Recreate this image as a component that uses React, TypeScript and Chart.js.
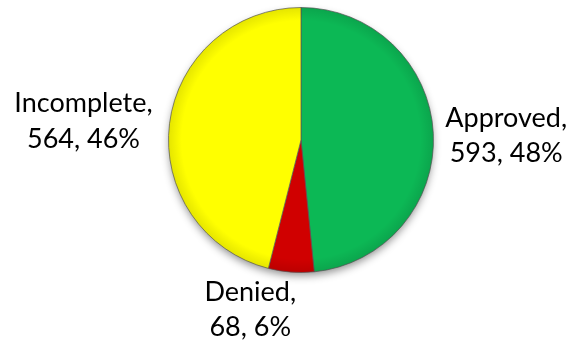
import React, { useEffect, useRef } from "react";
import { Chart, registerables } from "chart.js";

Chart.register(...registerables);

const categories = ["Approved", "Denied", "Incomplete"];
const counts = [593, 68, 564];
const percents = ["48%", "6%", "46%"];
const colors = ["#0CB855", "#D00000", "#FFFF00"];
// label nudges (px) relative to the outside-end anchor
const labelNudges = [
  { dx: 0, dy: 3 },
  { dx: -40, dy: -10 },
  { dx: -5, dy: -1 },
];

const labelPlugin = {
  id: "outsideLabels",
  afterDatasetsDraw(chart: any) {
    const ctx = chart.ctx;
    const meta = chart.getDatasetMeta(0);
    ctx.save();
    ctx.font = "27px Lato, 'Open Sans', sans-serif";
    ctx.fillStyle = "#000";
    const lineH = 35.5;
    meta.data.forEach((arc: any, i: number) => {
      const p = arc.getProps(["x", "y", "startAngle", "endAngle", "outerRadius"], true);
      const mid = (p.startAngle + p.endAngle) / 2;
      const r = p.outerRadius + 12;
      const ax = p.x + Math.cos(mid) * r;
      const ay = p.y + Math.sin(mid) * r;
      const lines = [categories[i] + ",", counts[i] + ", " + percents[i]];
      const widths = lines.map((l) => ctx.measureText(l).width);
      const w = Math.max(...widths);
      const h = lineH * lines.length;
      const c = Math.cos(mid);
      const s = Math.sin(mid);
      let cx: number, cy: number;
      if (Math.abs(c) > Math.abs(s)) {
        cx = ax + (c > 0 ? w / 2 : -w / 2);
        cy = ay;
      } else {
        cx = ax;
        cy = ay + (s > 0 ? h / 2 : -h / 2);
      }
      cx += labelNudges[i].dx;
      cy += labelNudges[i].dy;
      ctx.textAlign = "center";
      ctx.textBaseline = "middle";
      lines.forEach((l, k) => {
        ctx.fillText(l, cx, cy - h / 2 + lineH / 2 + k * lineH);
      });
    });
    ctx.restore();
  },
};

const shadowPlugin = {
  id: "pieShadow",
  beforeDatasetsDraw(chart: any) {
    const ctx = chart.ctx;
    const arc = chart.getDatasetMeta(0).data[0];
    if (!arc) return;
    const { x, y, outerRadius } = arc.getProps(["x", "y", "outerRadius"], true);
    ctx.save();
    ctx.shadowColor = "rgba(0,0,0,0.45)";
    ctx.shadowBlur = 8;
    ctx.shadowOffsetY = 4;
    ctx.fillStyle = "#888";
    ctx.beginPath();
    ctx.arc(x, y, outerRadius - 1, 0, Math.PI * 2);
    ctx.fill();
    ctx.restore();
  },
};

const bevelPlugin = {
  id: "bevel",
  afterDatasetsDraw(chart: any) {
    const ctx = chart.ctx;
    const arc = chart.getDatasetMeta(0).data[0];
    if (!arc) return;
    const { x, y, outerRadius } = arc.getProps(["x", "y", "outerRadius"], true);
    ctx.save();
    const g = ctx.createRadialGradient(x, y, outerRadius * 0.9, x, y, outerRadius);
    g.addColorStop(0, "rgba(0,0,0,0)");
    g.addColorStop(1, "rgba(0,0,0,0.1)");
    ctx.fillStyle = g;
    ctx.beginPath();
    ctx.arc(x, y, outerRadius, 0, Math.PI * 2);
    ctx.fill();
    ctx.restore();
  },
};

export default function App() {
  const ref = useRef<HTMLCanvasElement>(null);
  useEffect(() => {
    if (!ref.current) return;
    const chart = new Chart(ref.current, {
      type: "pie",
      data: {
        labels: categories,
        datasets: [
          {
            data: counts,
            backgroundColor: colors,
            borderColor: "rgba(90,90,90,0.7)",
            borderWidth: 1,
          },
        ],
      },
      options: {
        animation: false,
        responsive: false,
        maintainAspectRatio: false,
        layout: { padding: { top: 7, bottom: 68, left: 168, right: 137 } },
        plugins: {
          legend: { display: false },
          tooltip: { enabled: false },
        },
      },
      plugins: [shadowPlugin, bevelPlugin, labelPlugin],
    });
    return () => chart.destroy();
  }, []);
  return (
    <div style={{ position: "fixed", left: 0, top: 0, width: 571, height: 341, background: "#fff" }}>
      <canvas ref={ref} width={571} height={341} style={{ width: 571, height: 341 }} />
    </div>
  );
}
